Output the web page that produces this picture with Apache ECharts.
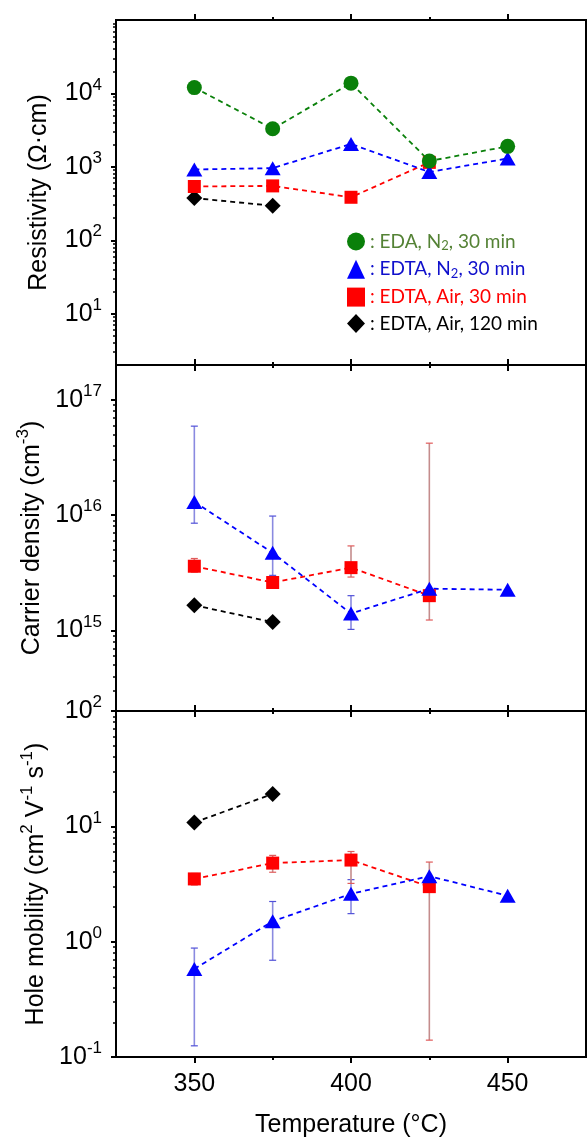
<!DOCTYPE html>
<html>
<head>
<meta charset="UTF-8">
<title>Resistivity, carrier density and hole mobility vs temperature</title>
<script src="https://cdn.jsdelivr.net/npm/echarts@6.0.0/dist/echarts.min.js"></script>
</head>
<body style="margin:0; background:#fff;">
<div id="chart" style="width:588px; height:1140px;"></div>
<script>
// annealing temperatures (°C)
const temps = [350, 375, 400, 425, 450];
const xMajorTicks = [350, 400, 450];
const xMinorTicks = [375, 425];

// series names
const nameEDA_N2 = 'EDA, N2, 30 min';
const nameEDTA_N2 = 'EDTA, N2, 30 min';
const nameEDTA_Air30 = 'EDTA, Air, 30 min';
const nameEDTA_Air120 = 'EDTA, Air, 120 min';

// resistivity (Ω·cm)
const resEDA_N2 = [12000, 3300, 13800, 1200, 1900];
const resEDTA_N2 = [920, 960, 2050, 850, 1300];
const resEDTA_Air30 = [540, 550, 385, 1150, null];
const resEDTA_Air120 = [375, 295, null, null, null];

// carrier density (cm^-3)
const denEDTA_N2 = [1.3e16, 4.7e15, 1.4e15, 2.3e15, 2.25e15];
const denEDTA_Air30 = [3.6e15, 2.6e15, 3.5e15, 2.0e15, null];
const denEDTA_Air120 = [1.65e15, 1.18e15, null, null, null];
const denErrN2 = [[8.5e15, 5.9e16], [3.0e15, 9.8e15], [1.02e15, 2.0e15], null, null];
const denErrAir30 = [[3.2e15, 4.2e15], null, [2.9e15, 5.4e15], [1.23e15, 4.2e16], null];

// hole mobility (cm2 V-1 s-1)
const mobEDTA_N2 = [0.58, 1.5, 2.6, 3.7, 2.5];
const mobEDTA_Air30 = [3.5, 4.8, 5.1, 3.0, null];
const mobEDTA_Air120 = [10.8, 19.1, null, null, null];
const mobErrN2 = [[0.125, 0.88], [0.69, 2.23], [1.75, 3.45], null, null];
const mobErrAir30 = [[3.1, 3.9], [4.0, 5.6], [3.2, 6.05], [0.14, 4.9], null];

// y ranges and labelled decades per panel
const yRanges = [[2, 1e5], [2e14, 2e17], [0.1, 100]];
const yLabels = [[10, 100, 1000, 10000], [1e15, 1e16, 1e17], [0.1, 1, 10, 100]];

const FONT = 'Liberation Sans';
const gridTops = [20, 365, 711];
const gridHeights = [345, 346, 346];
const nameGaps = [60, 64, 62];

// minor ticks of a log axis: 2..9 x each decade inside the range
function logMinor(range) {
    const out = [];
    const lo = Math.floor(Math.log10(range[0]));
    const hi = Math.ceil(Math.log10(range[1]));
    for (let e = lo; e < hi; e++) {
        for (let k = 2; k <= 9; k++) {
            const v = k * Math.pow(10, e);
            if (v > range[0] * 1.0001 && v < range[1] * 0.9999) out.push(v);
        }
    }
    return out;
}

function pow10Label(v) {
    const e = Math.round(Math.log10(v));
    return '{b|10}{s|' + e + '}';
}

const supRich = {
    b: { fontFamily: FONT, fontSize: 25, lineHeight: 34, color: '#000' },
    s: { fontFamily: FONT, fontSize: 17, verticalAlign: 'top', color: '#000' }
};

const yNames = [
    '{b|Resistivity (Ω·cm)}',
    '{b|Carrier density (cm}{s|-3}{b|)}',
    '{b|Hole mobility (cm}{s|2}{b| V}{s|-1}{b| s}{s|-1}{b|)}'
];

// x axes: 4 per grid (bottom major, bottom minor, top major, top minor)
const xAxes = [];
gridTops.forEach((t, gi) => {
    const base = {
        gridIndex: gi, type: 'value', min: 325, max: 475,
        axisLine: { show: false }, splitLine: { show: false }, axisLabel: { show: false }
    };
    const major = { customValues: xMajorTicks, length: 6, lineStyle: { color: '#000', width: 2 } };
    const minor = { customValues: xMinorTicks, length: 3, lineStyle: { color: '#000', width: 2 } };
    const bottom = Object.assign({}, base, { position: 'bottom', axisTick: major });
    if (gi === 2) {
        bottom.axisLabel = {
            show: true, customValues: xMajorTicks, margin: 15,
            fontFamily: FONT, fontSize: 25, color: '#000'
        };
        bottom.name = 'Temperature (°C)';
        bottom.nameLocation = 'middle';
        bottom.nameGap = 56;
        bottom.nameTextStyle = { fontFamily: FONT, fontSize: 25, color: '#000' };
    }
    xAxes.push(bottom);
    xAxes.push(Object.assign({}, base, { position: 'bottom', axisTick: minor }));
    xAxes.push(Object.assign({}, base, { position: 'top', axisTick: major }));
    xAxes.push(Object.assign({}, base, { position: 'top', axisTick: minor }));
});

// y axes: 2 per grid (labelled decades, minor ticks)
const yAxes = [];
gridTops.forEach((t, gi) => {
    const base = {
        gridIndex: gi, type: 'log', logBase: 10,
        min: yRanges[gi][0], max: yRanges[gi][1], position: 'left',
        axisLine: { show: false }, splitLine: { show: false }
    };
    yAxes.push(Object.assign({}, base, {
        axisTick: { customValues: yLabels[gi], length: 5, lineStyle: { color: '#000', width: 2 } },
        axisLabel: {
            customValues: yLabels[gi], margin: 14, formatter: pow10Label,
            rich: supRich
        },
        name: yNames[gi], nameLocation: 'middle', nameGap: nameGaps[gi],
        nameTextStyle: { fontFamily: FONT, fontSize: 25, color: '#000', rich: supRich }
    }));
    yAxes.push(Object.assign({}, base, {
        axisTick: { customValues: logMinor(yRanges[gi]), length: 3, lineStyle: { color: '#000', width: 1.5 } },
        axisLabel: { show: false }
    }));
});

function lineSeries(name, gi, vals, color, symbol, size) {
    return {
        name: name, type: 'line', xAxisIndex: gi * 4, yAxisIndex: gi * 2,
        data: temps.map((t, i) => [t, vals[i]]).filter(p => p[1] != null),
        symbol: symbol, symbolSize: size,
        itemStyle: { color: color },
        lineStyle: { color: color, width: 1.8, type: [5, 4] },
        z: 3
    };
}

function errorSeries(name, gi, errs, lineColor, capColor) {
    return {
        name: name, type: 'custom', xAxisIndex: gi * 4, yAxisIndex: gi * 2, z: 1,
        data: temps.map((t, i) => errs[i] ? [t, errs[i][0], errs[i][1]] : null).filter(Boolean),
        renderItem: function (params, api) {
            const lo = api.coord([api.value(0), api.value(1)]);
            const hi = api.coord([api.value(0), api.value(2)]);
            const w = 3.5;
            return {
                type: 'group',
                children: [
                    { type: 'line', shape: { x1: lo[0], y1: lo[1], x2: hi[0], y2: hi[1] }, style: { stroke: lineColor, lineWidth: 1.6 } },
                    { type: 'line', shape: { x1: lo[0] - w, y1: lo[1], x2: lo[0] + w, y2: lo[1] }, style: { stroke: capColor, lineWidth: 1.2 } },
                    { type: 'line', shape: { x1: hi[0] - w, y1: hi[1], x2: hi[0] + w, y2: hi[1] }, style: { stroke: capColor, lineWidth: 1.2 } }
                ]
            };
        }
    };
}

const GREEN = '#0a800a', BLUE = '#0000ff', RED = '#ff0000', BLACK = '#000000';
const BLUE_ERR = '#8a8ae0', BLUE_CAP = '#5050d8';
const RED_ERR = '#c48c8c', RED_CAP = '#e05a5a';

const series = [
    // resistivity
    lineSeries(nameEDTA_Air120, 0, resEDTA_Air120, BLACK, 'diamond', 16),
    lineSeries(nameEDTA_Air30, 0, resEDTA_Air30, RED, 'rect', 13),
    lineSeries(nameEDTA_N2, 0, resEDTA_N2, BLUE, 'triangle', [16, 14]),
    lineSeries(nameEDA_N2, 0, resEDA_N2, GREEN, 'circle', 15),
    // carrier density
    errorSeries(nameEDTA_N2, 1, denErrN2, BLUE_ERR, BLUE_CAP),
    errorSeries(nameEDTA_Air30, 1, denErrAir30, RED_ERR, RED_CAP),
    lineSeries(nameEDTA_Air120, 1, denEDTA_Air120, BLACK, 'diamond', 16),
    lineSeries(nameEDTA_Air30, 1, denEDTA_Air30, RED, 'rect', 13),
    lineSeries(nameEDTA_N2, 1, denEDTA_N2, BLUE, 'triangle', [16, 14]),
    // hole mobility
    errorSeries(nameEDTA_N2, 2, mobErrN2, BLUE_ERR, BLUE_CAP),
    errorSeries(nameEDTA_Air30, 2, mobErrAir30, RED_ERR, RED_CAP),
    lineSeries(nameEDTA_Air120, 2, mobEDTA_Air120, BLACK, 'diamond', 16),
    lineSeries(nameEDTA_Air30, 2, mobEDTA_Air30, RED, 'rect', 13),
    lineSeries(nameEDTA_N2, 2, mobEDTA_N2, BLUE, 'triangle', [16, 14])
];

const legendText = {};
legendText[nameEDA_N2] = '{n|: EDA, N}{sub|2}{n|, 30 min}';
legendText[nameEDTA_N2] = '{n|: EDTA, N}{sub|2}{n|, 30 min}';
legendText[nameEDTA_Air30] = '{n|: EDTA, Air, 30 min}';
legendText[nameEDTA_Air120] = '{n|: EDTA, Air, 120 min}';

function legendItem(name, icon, color) {
    return {
        name: name, icon: icon,
        textStyle: {
            color: color, height: 22,
            rich: {
                n: { fontFamily: 'Lato', fontSize: 19, lineHeight: 22, color: color },
                sub: { fontFamily: 'Lato', fontSize: 13, verticalAlign: 'bottom', color: color }
            }
        }
    };
}

const chart = echarts.init(document.getElementById('chart'));
chart.setOption({
    animation: false,
    backgroundColor: '#fff',
    grid: gridTops.map((t, gi) => ({
        left: 116, top: t, width: 470, height: gridHeights[gi],
        show: true, borderColor: '#000', borderWidth: 2, backgroundColor: 'transparent'
    })),
    legend: {
        orient: 'vertical', left: 342, top: 227,
        itemWidth: 18, itemHeight: 19, itemGap: 7.3,
        selectedMode: false,
        formatter: name => legendText[name],
        data: [
            legendItem(nameEDA_N2, 'circle', '#548235'),
            legendItem(nameEDTA_N2, 'triangle', '#1010cc'),
            legendItem(nameEDTA_Air30, 'rect', '#ff0000'),
            legendItem(nameEDTA_Air120, 'diamond', '#000000')
        ]
    },
    xAxis: xAxes,
    yAxis: yAxes,
    series: series
});
</script>
</body>
</html>
